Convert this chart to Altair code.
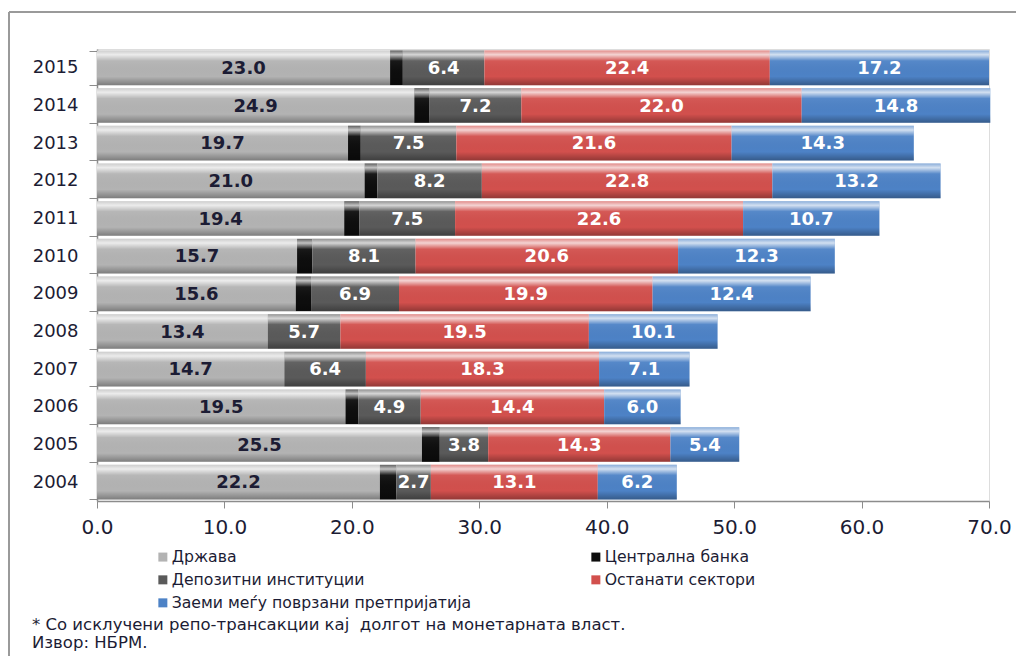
import altair as alt
import pandas as pd

# Debt by sector, 2004-2015 (stacked components)
years = [2015, 2014, 2013, 2012, 2011, 2010, 2009, 2008, 2007, 2006, 2005, 2004]
drzava = [23.0, 24.9, 19.7, 21.0, 19.4, 15.7, 15.6, 13.4, 14.7, 19.5, 25.5, 22.2]
centralna = [1.0, 1.2, 1.0, 1.0, 1.2, 1.2, 1.2, 0.0, 0.0, 1.0, 1.4, 1.3]
depozitni = [6.4, 7.2, 7.5, 8.2, 7.5, 8.1, 6.9, 5.7, 6.4, 4.9, 3.8, 2.7]
ostanati = [22.4, 22.0, 21.6, 22.8, 22.6, 20.6, 19.9, 19.5, 18.3, 14.4, 14.3, 13.1]
zaemi = [17.2, 14.8, 14.3, 13.2, 10.7, 12.3, 12.4, 10.1, 7.1, 6.0, 5.4, 6.2]

series_names = [
    "Држава",
    "Централна банка",
    "Депозитни институции",
    "Останати сектори",
    "Заеми меѓу поврзани претпријатија",
]
series_colors = ["#b3b3b3", "#0d0d0d", "#5a5a5a", "#d2504d", "#4d82c6"]
x_ticks = [0, 10, 20, 30, 40, 50, 60, 70]
footnotes = [
    "* Со исклучени репо-трансакции кај \u00a0долгот на монетарната власт.",
    "Извор: НБРМ.",
]

rows = []
for i, y in enumerate(years):
    for k, vals in enumerate([drzava, centralna, depozitni, ostanati, zaemi]):
        rows.append({"year": str(y), "series": series_names[k], "order": k, "value": vals[i]})
df = pd.DataFrame(rows)

FONT = "DejaVu Sans"
TEXT = "#1c1c34"
W, H = 892, 452
year_order = [str(y) for y in years]

base = alt.Chart(df).transform_stack(
    stack="value", groupby=["year"], as_=["x0", "x1"],
    sort=[alt.SortField("order", order="ascending")],
).transform_calculate(mid="(datum.x0 + datum.x1) / 2")

y_enc = alt.Y(
    "year:N", sort=year_order, title=None,
    scale=alt.Scale(paddingInner=0.08, paddingOuter=0.04),
    axis=alt.Axis(
        tickBand="extent", tickSize=8, labelPadding=11, labelFontSize=18,
        labelColor=TEXT, labelFont=FONT, domainColor="#8c8c8c", tickColor="#8c8c8c",
        domainWidth=1.5, grid=False,
    ),
)
x_enc = alt.X(
    "x0:Q", title=None,
    scale=alt.Scale(domain=[0, 70], nice=False),
    axis=alt.Axis(
        values=x_ticks, format=".1f", tickSize=7, labelPadding=9, labelFontSize=20,
        labelColor=TEXT, labelFont=FONT, domainColor="#8c8c8c", tickColor="#8c8c8c",
        domainWidth=1.5, grid=False, labelFlush=False,
    ),
)

bars = base.mark_bar(cornerRadius=0).encode(
    y=y_enc,
    x=x_enc,
    x2="x1:Q",
    color=alt.Color(
        "series:N",
        scale=alt.Scale(domain=series_names, range=series_colors),
        sort=series_names,
        legend=alt.Legend(
            title=None, orient="none", legendX=58, legendY=500, columns=2,
            direction="horizontal", columnPadding=116, rowPadding=6,
            labelFontSize=15.7, labelFont=FONT, labelColor=TEXT,
            symbolType="square", symbolSize=81, symbolStrokeWidth=0,
            labelOffset=1, labelLimit=400,
        ),
    ),
)

# bevelled look: highlight along the top edge, shade along the bottom
shade = alt.Gradient(
    gradient="linear", x1=0, y1=0, x2=0, y2=1,
    stops=[
        alt.GradientStop(color="rgba(255,255,255,0.35)", offset=0),
        alt.GradientStop(color="rgba(255,255,255,0.75)", offset=0.12),
        alt.GradientStop(color="rgba(255,255,255,0.05)", offset=0.3),
        alt.GradientStop(color="rgba(0,0,0,0)", offset=0.75),
        alt.GradientStop(color="rgba(0,0,0,0.3)", offset=1),
    ],
)
gloss = base.transform_filter("datum.value > 0").mark_bar(color=shade).encode(
    y=alt.Y("year:N", sort=year_order),
    x="x0:Q",
    x2="x1:Q",
)

labels = base.transform_filter(
    alt.datum.series != "Централна банка"
).mark_text(font=FONT, fontSize=18, fontWeight="bold", baseline="middle", dy=1).encode(
    y=alt.Y("year:N", sort=year_order),
    x="mid:Q",
    text=alt.Text("value:Q", format=".1f"),
    color=alt.condition(alt.datum.series == "Држава", alt.value(TEXT), alt.value("white")),
)

one = pd.DataFrame({"k": [0]})
frame_left = alt.Chart(one).mark_rule(color="#9a9a9a", strokeWidth=2).encode(
    x=alt.value(-88), y=alt.value(-37), y2=alt.value(620)
)
frame_top = alt.Chart(one).mark_rule(color="#9a9a9a", strokeWidth=2).encode(
    x=alt.value(-88), x2=alt.value(940), y=alt.value(-37)
)

notes = [
    alt.Chart(pd.DataFrame({"t": [txt]})).mark_text(
        font=FONT, fontSize=16.5, align="left", baseline="middle", color=TEXT
    ).encode(text="t:N", x=alt.value(-65), y=alt.value(576 + 18 * i))
    for i, txt in enumerate(footnotes)
]

chart = alt.layer(frame_left, frame_top, bars, gloss, labels, *notes).properties(
    width=W, height=H,
    autosize=alt.AutoSizeParams(type="none"),
    padding={"left": 97, "top": 49, "right": 27, "bottom": 155},
).configure_view(stroke=None).configure(background="white")

chart.save("out.html", embed_options={"renderer": "svg", "actions": False})
